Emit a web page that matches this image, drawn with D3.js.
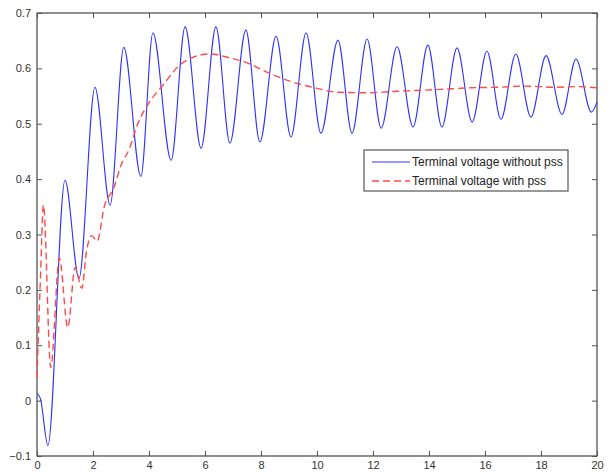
<!DOCTYPE html>
<meta charset="utf-8">
<style>
  body { margin: 0; background: #fff; }
  .axis text { font-family: Arial, "Liberation Sans", sans-serif; font-size: 11px; fill: #333; }
  .axis path, .axis line { stroke: #555; }
  .legend text { font-family: Arial, "Liberation Sans", sans-serif; font-size: 12px; fill: #222; }
</style>
<svg width="615" height="474"></svg>
<script src="https://d3js.org/d3.v7.min.js"></script>
<script>
  // time (s) / voltage
  var tWithout = [0, 0.12, 0.39, 1.0, 1.5, 2.07, 2.61, 3.1, 3.71, 4.14, 4.79, 5.29, 5.86, 6.39, 6.89, 7.46, 7.96,
    8.54, 9.07, 9.61, 10.14, 10.75, 11.25, 11.79, 12.29, 12.86, 13.43, 13.96, 14.46, 15.0, 15.54,
    16.07, 16.57, 17.1, 17.64, 18.18, 18.75, 19.25, 19.8, 20];
  var vWithout = [0.013, 0.004, -0.081, 0.398, 0.221, 0.566, 0.353, 0.638, 0.405, 0.664, 0.434, 0.675, 0.456,
    0.675, 0.465, 0.669, 0.467, 0.658, 0.476, 0.664, 0.483, 0.651, 0.483, 0.653, 0.492, 0.639, 0.494,
    0.642, 0.494, 0.637, 0.503, 0.631, 0.508, 0.626, 0.512, 0.623, 0.517, 0.617, 0.521, 0.539];

  var tWith = [0, 0.12, 0.23, 0.49, 0.8, 1.1, 1.36, 1.6, 1.77, 1.95, 2.15, 2.4, 2.75, 3.0, 3.3, 3.6, 4.0,
    4.5, 5.1, 5.57, 6.18, 6.8, 7.5, 8.3, 9.15, 10.0, 10.7, 11.8, 12.6, 13.5, 14.4, 15.5, 16.5, 17.4,
    18.5, 19.3, 20];
  var vWith = [0.042, 0.217, 0.353, 0.06, 0.257, 0.132, 0.24, 0.203, 0.27, 0.298, 0.288, 0.35, 0.385, 0.425,
    0.455, 0.5, 0.538, 0.57, 0.606, 0.62, 0.626, 0.62, 0.61, 0.591, 0.575, 0.564, 0.557, 0.556, 0.558,
    0.56, 0.562, 0.565, 0.566, 0.568, 0.566, 0.567, 0.565];

  var xTicks = [0, 2, 4, 6, 8, 10, 12, 14, 16, 18, 20];
  var yTicks = [-0.1, 0, 0.1, 0.2, 0.3, 0.4, 0.5, 0.6, 0.7];
  var legendLabels = ["Terminal voltage without pss", "Terminal voltage with pss"];

  var svg = d3.select("svg"),
    margin = {top: 13, right: 18, bottom: 18, left: 37},
    width = +svg.attr("width") - margin.left - margin.right,
    height = +svg.attr("height") - margin.top - margin.bottom;

  var g = svg.append("g").attr("transform", "translate(" + margin.left + "," + margin.top + ")");

  var x = d3.scaleLinear().domain([0, 20]).range([0, width]);
  var y = d3.scaleLinear().domain([-0.1, 0.7]).range([height, 0]);

  var fmt = function(d) { return d === 0 ? "0" : d3.format(".1f")(d); };

  // bottom / left axes with inward ticks
  g.append("g").attr("class", "axis")
    .attr("transform", "translate(0," + height + ")")
    .call(d3.axisBottom(x).tickValues(xTicks).tickSizeInner(-5).tickSizeOuter(0).tickPadding(5))
    .call(function(a) { a.select(".domain").remove(); });

  g.append("g").attr("class", "axis")
    .call(d3.axisLeft(y).tickValues(yTicks).tickFormat(fmt).tickSizeInner(-5).tickSizeOuter(0).tickPadding(6))
    .call(function(a) { a.select(".domain").remove(); });

  g.append("g").attr("class", "axis")
    .call(d3.axisTop(x).tickValues(xTicks).tickSizeInner(-5).tickSizeOuter(0).tickFormat(""))
    .call(function(a) { a.select(".domain").remove(); });

  g.append("g").attr("class", "axis")
    .attr("transform", "translate(" + width + ",0)")
    .call(d3.axisRight(y).tickValues(yTicks).tickSizeInner(-5).tickSizeOuter(0).tickFormat(""))
    .call(function(a) { a.select(".domain").remove(); });

  g.append("rect")
    .attr("width", width)
    .attr("height", height)
    .attr("fill", "none")
    .attr("stroke", "#555")
    .attr("stroke-width", 1.3);

  var line = d3.line()
    .x(function(d) { return x(d[0]); })
    .y(function(d) { return y(d[1]); })
    .curve(d3.curveMonotoneX);

  g.append("path")
    .datum(d3.zip(tWithout, vWithout))
    .attr("fill", "none")
    .attr("stroke", "#3030ff")
    .attr("stroke-width", 1.1)
    .attr("d", line);

  g.append("path")
    .datum(d3.zip(tWith, vWith))
    .attr("fill", "none")
    .attr("stroke", "#ff4a4a")
    .attr("stroke-width", 1.4)
    .attr("stroke-dasharray", "7,4")
    .attr("d", line);

  // legend
  var lg = svg.append("g").attr("class", "legend").attr("transform", "translate(364,150)");
  lg.append("rect")
    .attr("width", 204)
    .attr("height", 41)
    .attr("fill", "#fff")
    .attr("stroke", "#555")
    .attr("stroke-width", 1.2);

  var styles = [{c: "#3030ff", w: 1.1, dash: null}, {c: "#ff4a4a", w: 1.6, dash: "7,4"}];
  legendLabels.forEach(function(lab, i) {
    var yy = 12 + i * 19;
    lg.append("line")
      .attr("x1", 8).attr("x2", 46)
      .attr("y1", yy).attr("y2", yy)
      .attr("stroke", styles[i].c)
      .attr("stroke-width", styles[i].w)
      .attr("stroke-dasharray", styles[i].dash);
    lg.append("text")
      .attr("x", 48)
      .attr("y", yy + 4)
      .text(lab);
  });
</script>
